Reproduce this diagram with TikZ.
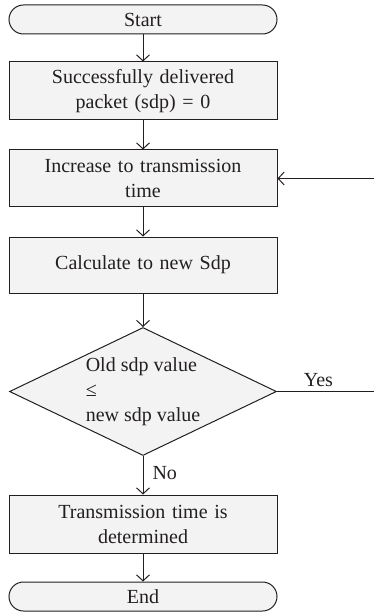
\documentclass[tikz,border=0pt]{standalone}
\usepackage{fontspec}
\setmainfont{Liberation Serif}
\usetikzlibrary{shapes.geometric,arrows.meta}
\definecolor{boxfill}{HTML}{F3F3F3}
\definecolor{ink}{HTML}{231F20}
\tikzset{
  x=1pt, y=-1pt,
  base/.style={draw=ink, line width=1pt, fill=boxfill, text=ink, inner sep=2pt,
    font=\fontsize{20}{25}\selectfont, align=center},
  procbox/.style={base, rectangle, minimum width=268pt, text width=250pt},
  term/.style={base, rectangle, rounded corners=14.5pt, minimum width=268pt, minimum height=29pt},
  decide/.style={base, diamond, minimum width=267pt, minimum height=128pt, inner sep=0pt},
  dtext/.style={text=ink, font=\fontsize{20}{25}\selectfont, align=left, inner sep=0pt},
  arr/.style={draw=ink, line width=1pt, -{Straight Barb[length=6pt,width=13pt]}},
  lbl/.style={text=ink, font=\fontsize{20}{25}\selectfont, inner sep=0pt}
}
\begin{document}
\begin{tikzpicture}
\useasboundingbox (0,0) rectangle (374,612);
\node[term] (start) at (143,19.5) {Start};
\node[procbox, minimum height=58pt] (b1) at (143,91) {Successfully delivered\\packet (sdp) = 0};
\node[procbox, minimum height=57pt] (b2) at (143,178.5) {Increase to transmission\\time};
\node[procbox, minimum height=56pt] (b3) at (143,265) {Calculate to new Sdp};
\node[decide] (d) at (143,391.5) {};
\node[dtext] (dt) at (d.center) {Old sdp value\\≤\\new sdp value};
\node[procbox, minimum height=58pt] (b4) at (143,524) {Transmission time is\\determined};
\node[term] (end) at (143,596.5) {End};
\coordinate (r1) at (375.5,391.5);
\coordinate (r2) at (375.5,178.5);
\draw[arr] (start) -- (b1);
\draw[arr] (b1) -- (b2);
\draw[arr] (b2) -- (b3);
\draw[arr] (b3) -- (d);
\draw[arr] (d) -- node[lbl, right=9pt, pos=0.45] {No} (b4);
\draw[arr] (b4) -- (end);
\draw[arr] (d.east) -- node[lbl, above=4pt, pos=0.42] {Yes} (r1) -- (r2) -- (b2.east);
\end{tikzpicture}
\end{document}
